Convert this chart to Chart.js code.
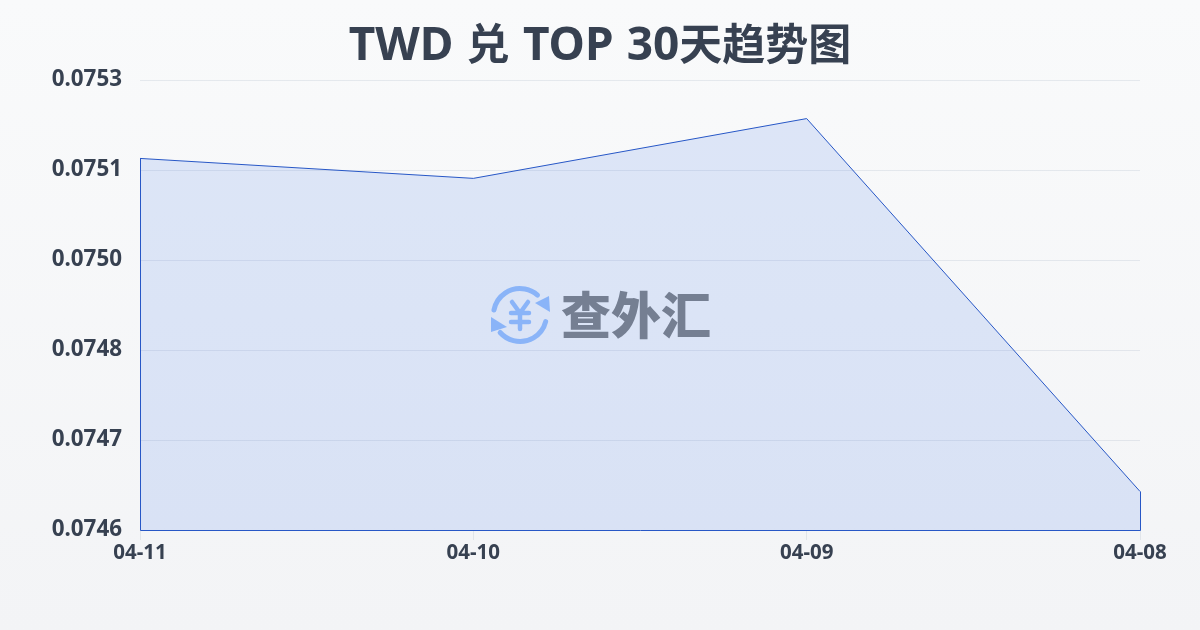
<!DOCTYPE html>
<html lang="zh">
<head>
<meta charset="utf-8">
<title>TWD 兑 TOP 30天趋势图</title>
<script src="https://cdn.jsdelivr.net/npm/chart.js@4/dist/chart.umd.min.js"></script>
<style>
	html, body { margin: 0; padding: 0; }
	body { width: 1200px; height: 630px; overflow: hidden; background: linear-gradient(180deg, #f9fafb 0%, #f3f4f6 100%); }
	canvas { display: block; }
</style>
</head>
<body>
<canvas id="myChart" width="1200" height="630"></canvas>
<script>
var dates = ["04-11", "04-10", "04-09", "04-08"];
var rates = [0.075138, 0.075107, 0.07520, 0.07462];
var yTicks = [0.07456, 0.0747, 0.07484, 0.07498, 0.07512, 0.07526];
var yLabels = ["0.0746", "0.0747", "0.0748", "0.0750", "0.0751", "0.0753"];
var titleParts = ["TWD ", "兑", " TOP 30", "天趋势图"];

var fontName = '"Noto Sans", "Noto Sans CJK SC", sans-serif';
var textColor = "#374151";
var lineColor = "#2757c6";

// title has bigger latin letters than chinese ones, so it goes in runs
var titlePlugin = {
	id: "mixedTitle",
	afterDraw: function (chart) {
		var ctx = chart.ctx;
		var fonts = ['700 46px "Noto Sans"', '700 43px "Noto Sans CJK SC"'];
		var total = 0;
		ctx.save();
		ctx.wordSpacing = "1.3px";
		titleParts.forEach(function (part, i) {
			ctx.font = fonts[i % 2];
			total += ctx.measureText(part).width;
		});
		var x = 600 - total / 2;
		ctx.fillStyle = textColor;
		ctx.textBaseline = "alphabetic";
		ctx.textAlign = "left";
		titleParts.forEach(function (part, i) {
			ctx.font = fonts[i % 2];
			ctx.fillText(part, x, 60);
			x += ctx.measureText(part).width;
		});
		ctx.restore();
	}
};

// closes the area: left side, bottom and right side get the same thin line
var outlinePlugin = {
	id: "outline",
	afterDatasetsDraw: function (chart) {
		var pts = chart.getDatasetMeta(0).data;
		var first = pts[0];
		var last = pts[pts.length - 1];
		var bottom = chart.scales.y.bottom + 0.5;
		var ctx = chart.ctx;
		ctx.save();
		ctx.strokeStyle = lineColor;
		ctx.lineWidth = 1;
		ctx.beginPath();
		ctx.moveTo(first.x + 0.5, first.y);
		ctx.lineTo(first.x + 0.5, bottom);
		ctx.lineTo(last.x + 0.5, bottom);
		ctx.lineTo(last.x + 0.5, last.y);
		ctx.stroke();
		ctx.restore();
	}
};

// logo in the middle of the plot
var watermarkPlugin = {
	id: "watermark",
	afterDraw: function (chart) {
		var ctx = chart.ctx;
		var cx = 520, cy = 315, r = 26.5;
		ctx.save();
		ctx.strokeStyle = "#8ab4f8";
		ctx.fillStyle = "#8ab4f8";
		ctx.lineWidth = 5;
		ctx.lineCap = "round";
		ctx.lineJoin = "round";
		ctx.beginPath();
		ctx.arc(cx, cy, r, Math.PI * 1.06, Math.PI * 1.73);
		ctx.stroke();
		ctx.beginPath();
		ctx.arc(cx, cy, r, Math.PI * 0.08, Math.PI * 0.77);
		ctx.stroke();
		ctx.beginPath();
		ctx.moveTo(549, 296);
		ctx.lineTo(550, 312);
		ctx.lineTo(535, 303);
		ctx.closePath();
		ctx.fill();
		ctx.beginPath();
		ctx.moveTo(491, 317);
		ctx.lineTo(491, 332);
		ctx.lineTo(507, 327);
		ctx.closePath();
		ctx.fill();
		// yen sign
		ctx.lineWidth = 4.5;
		ctx.beginPath();
		ctx.moveTo(512, 302);
		ctx.lineTo(520, 313);
		ctx.lineTo(528, 302);
		ctx.moveTo(520, 313);
		ctx.lineTo(520, 329);
		ctx.moveTo(511, 313);
		ctx.lineTo(529, 313);
		ctx.moveTo(511, 322);
		ctx.lineTo(529, 322);
		ctx.stroke();
		ctx.fillStyle = "#757f92";
		ctx.textAlign = "left";
		ctx.textBaseline = "middle";
		ctx.font = '900 50px "Noto Sans CJK SC"';
		ctx.fillText("查外汇", 561, 315);
		ctx.restore();
	}
};

var ctx = document.getElementById("myChart");
var myChart = new Chart(ctx, {
	type: "line",
	data: {
		labels: dates,
		datasets: [{
			data: rates,
			borderColor: lineColor,
			borderWidth: 1,
			backgroundColor: "rgba(37, 99, 235, 0.13)",
			fill: "start",
			tension: 0,
			pointRadius: 0
		}]
	},
	plugins: [outlinePlugin, watermarkPlugin, titlePlugin],
	options: {
		responsive: false,
		animation: false,
		// 80.01 so the grid lines round down onto the same rows as the reference
		layout: { padding: { left: 0, right: 60, top: 80.01, bottom: 0 } },
		plugins: {
			legend: { display: false },
			tooltip: { enabled: false },
			title: { display: false }
		},
		scales: {
			x: {
				offset: false,
				afterFit: function (scale) { scale.height = 100; },
				grid: { color: "rgba(148, 163, 184, 0.2)", drawOnChartArea: false, tickLength: 10 },
				border: { display: false },
				ticks: {
					color: textColor,
					maxRotation: 0,
					autoSkip: false,
					padding: 1,
					font: { family: fontName, size: 20.5, weight: "700" }
				}
			},
			y: {
				min: yTicks[0],
				max: yTicks[yTicks.length - 1],
				afterFit: function (scale) { scale.width = 140; },
				afterBuildTicks: function (scale) {
					scale.ticks = yTicks.map(function (v) { return { value: v }; });
				},
				grid: { color: "rgba(148, 163, 184, 0.2)", drawTicks: false },
				border: { display: false },
				ticks: {
					color: textColor,
					padding: 18,
					font: { family: fontName, size: 22.4, weight: "700" },
					callback: function (value, index) { return yLabels[index]; }
				}
			}
		}
	}
});
</script>
</body>
</html>
